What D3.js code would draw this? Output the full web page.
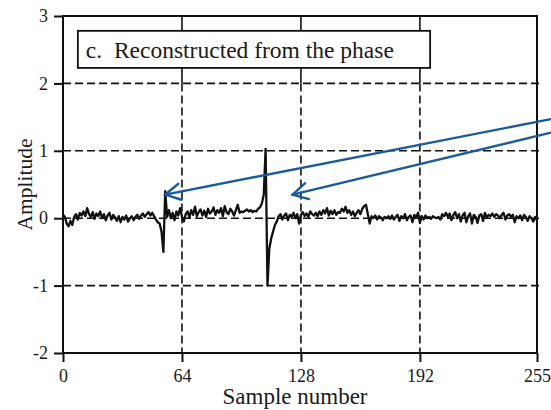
<!DOCTYPE html>
<html>
<head>
<meta charset="utf-8">
<script src="https://cdn.jsdelivr.net/npm/d3@7"></script>
<style>
  body { margin: 0; background: #fff; }
  svg { display: block; }
  svg text { font-family: 'Liberation Serif', 'Times New Roman', serif; }
</style>
</head>
<body>
<svg id="chart" width="551" height="410"></svg>
<script>
// signal values, one per sample (0..255)
const amplitude = [
  0.05, 0.02, -0.08, -0.12, -0.04, -0.1, 0.02, 0.06, -0.02, 0.08, 0.04, 0.1, 0.03, 0.15, 0.06, 0.02,
  0.09, -0.01, 0.07, 0.03, 0.1, 0.0, 0.06, -0.03, 0.04, 0.08, -0.02, 0.05, 0.01, -0.04, 0.03, -0.06,
  0.02, -0.02, 0.04, -0.05, 0.0, 0.03, -0.03, 0.02, 0.05, -0.01, 0.04, 0.07, 0.02, 0.06, 0.09, 0.04,
  0.08, 0.03, -0.02, -0.06, -0.08, -0.2, -0.5, 0.4, 0.02, 0.12, 0.0, 0.08, -0.03, 0.1, 0.04, 0.15,
  0.02, -0.05, 0.06, 0.1, 0.01, 0.12, 0.05, 0.17, 0.03, 0.09, 0.13, 0.04, 0.11, 0.02, 0.14, 0.07,
  0.1, 0.16, 0.05, 0.12, 0.08, 0.15, 0.03, 0.18, 0.09, 0.06, 0.14, 0.1, 0.04, 0.12, 0.2, 0.08,
  0.1, 0.09, 0.11, 0.13, 0.1, 0.12, 0.09, 0.11, 0.1, 0.14, 0.16, 0.22, 0.35, 1.03, -1.0, -0.45,
  -0.3, -0.2, -0.1, -0.05, 0.03, 0.06, -0.02, 0.04, 0.07, -0.03, 0.05, 0.02, 0.08, 0.0, 0.06, -0.08,
  0.05, 0.09, 0.03, 0.07, 0.02, 0.1, 0.06, 0.04, 0.08, 0.03, 0.1, 0.05, 0.12, 0.07, 0.15, 0.04,
  0.11, 0.06, 0.12, 0.05, 0.09, 0.08, 0.14, 0.1, 0.17, 0.08, 0.12, 0.05, 0.1, 0.03, 0.08, 0.12,
  0.06, 0.14, 0.18, 0.2, 0.06, -0.08, 0.03, 0.0, 0.04, -0.02, 0.03, 0.01, -0.03, 0.02, 0.0, 0.03,
  -0.01, 0.04, -0.02, 0.02, 0.05, -0.04, 0.03, 0.0, 0.06, -0.03, 0.02, 0.04, -0.06, 0.05, 0.01, 0.08,
  -0.07, 0.03, -0.02, 0.04, 0.0, 0.02, -0.01, 0.03, 0.01, 0.0, 0.02, -0.02, 0.06, 0.03, 0.08, 0.02,
  0.07, -0.03, 0.05, 0.09, 0.0, 0.06, -0.05, 0.04, 0.08, -0.06, 0.03, 0.07, -0.08, 0.05, 0.02, -0.07,
  0.04, 0.06, -0.04, 0.08, 0.01, 0.05, 0.03, 0.07, 0.02, 0.06, 0.04, 0.0, 0.05, 0.08, -0.02, 0.04,
  0.06, 0.02, 0.05, -0.06, 0.03, 0.0, 0.04, -0.03, 0.05, 0.02, -0.04, 0.03, 0.0, -0.05, 0.02, -0.03
];

const xTicks = [0, 64, 128, 192, 255];
const yTicks = [-2, -1, 0, 1, 2, 3];
const xGrid = [64, 128, 192];
const yGrid = [-1, 0, 1, 2];

const titleText = 'c.  Reconstructed from the phase';
const xLabel = 'Sample number';
const yLabel = 'Amplitude';

// annotation arrows in data units: tail (off to the right) -> tip
const arrows = [
  { from: [262.5, 1.47], to: [55, 0.35] },
  { from: [262.5, 1.27], to: [123.5, 0.35] }
];

const svg = d3.select('#chart');
const margin = { left: 63, top: 16, right: 14, bottom: 57 };
const width = 551 - margin.left - margin.right;
const height = 410 - margin.top - margin.bottom;
const ink = '#1a1a1a';

const x = d3.scaleLinear().domain([0, 255]).range([0, width]);
const y = d3.scaleLinear().domain([-2, 3]).range([height, 0]);

const g = svg.append('g').attr('transform', `translate(${margin.left},${margin.top})`);

// grid lines: dashed below y=2, solid in the top band
g.append('g').selectAll('line').data(yGrid).enter()
  .append('line')
  .attr('x1', 0).attr('x2', width + 2)
  .attr('y1', (d) => y(d)).attr('y2', (d) => y(d))
  .attr('stroke', '#111').attr('stroke-width', 1.6)
  .attr('stroke-dasharray', '8,4');

g.append('g').selectAll('line').data(xGrid).enter()
  .append('line')
  .attr('x1', (d) => x(d)).attr('x2', (d) => x(d))
  .attr('y1', y(2)).attr('y2', height)
  .attr('stroke', '#111').attr('stroke-width', 1.6)
  .attr('stroke-dasharray', '8,4');

g.append('g').selectAll('line').data(xGrid).enter()
  .append('line')
  .attr('x1', (d) => x(d)).attr('x2', (d) => x(d))
  .attr('y1', y(3)).attr('y2', y(2))
  .attr('stroke', '#111').attr('stroke-width', 1.6);

// frame
g.append('rect')
  .attr('x', 0).attr('y', 0)
  .attr('width', width).attr('height', height)
  .attr('fill', 'none').attr('stroke', '#111').attr('stroke-width', 2);

// axes (plain hyphen for negatives, like the reference)
const xAxis = g.append('g')
  .attr('transform', `translate(0,${height})`)
  .call(d3.axisBottom(x).tickValues(xTicks).tickSize(9).tickPadding(7).tickFormat((d) => String(d)));
const yAxis = g.append('g')
  .call(d3.axisLeft(y).tickValues(yTicks).tickSize(9).tickPadding(6).tickFormat((d) => String(d)));

[xAxis, yAxis].forEach((a) => {
  a.attr('font-family', null).attr('font-size', null);
  a.select('.domain').remove();
  a.selectAll('.tick line').attr('stroke', '#111').attr('stroke-width', 2);
  a.selectAll('.tick text')
    .attr('fill', ink)
    .style('font-size', '18px');
});

// signal
const line = d3.line()
  .x((d, i) => x(i))
  .y((d) => y(d));

g.append('path')
  .datum(amplitude)
  .attr('d', line)
  .attr('fill', 'none')
  .attr('stroke', '#111')
  .attr('stroke-width', 2.3)
  .attr('stroke-linejoin', 'round');

// title box
const titleG = g.append('g');
titleG.append('rect')
  .attr('x', x(8)).attr('y', y(2.78))
  .attr('width', x(197.5) - x(8)).attr('height', y(2.23) - y(2.78))
  .attr('fill', '#fff').attr('stroke', '#111').attr('stroke-width', 1.8);
titleG.append('text')
  .attr('x', x(12.3)).attr('y', y(2.37))
  .style('font-size', '23.5px')
  .attr('fill', ink)
  .style('white-space', 'pre')
  .text(titleText);

// axis titles
svg.append('text')
  .attr('x', margin.left + width / 2 - 5).attr('y', 404)
  .attr('text-anchor', 'middle')
  .style('font-size', '23px')
  .attr('fill', ink)
  .text(xLabel);

svg.append('text')
  .attr('transform', `translate(32,${margin.top + height / 2}) rotate(-90)`)
  .attr('text-anchor', 'middle')
  .style('font-size', '21.5px')
  .attr('fill', ink)
  .text(yLabel);

// blue annotation arrows
const arrowG = g.append('g')
  .attr('stroke', '#1b5a9b').attr('stroke-width', 2.4)
  .attr('fill', 'none').attr('stroke-linecap', 'round');

arrows.forEach((a) => {
  const x0 = x(a.from[0]), y0 = y(a.from[1]);
  const x1 = x(a.to[0]), y1 = y(a.to[1]);
  const ang = Math.atan2(y0 - y1, x0 - x1);
  const len = 17, spread = 0.5;
  arrowG.append('line')
    .attr('x1', x0).attr('y1', y0).attr('x2', x1).attr('y2', y1);
  arrowG.append('path')
    .attr('d', `M${x1 + len * Math.cos(ang - spread)},${y1 + len * Math.sin(ang - spread)}` +
      `L${x1},${y1}` +
      `L${x1 + len * Math.cos(ang + spread)},${y1 + len * Math.sin(ang + spread)}`);
});
</script>
</body>
</html>
